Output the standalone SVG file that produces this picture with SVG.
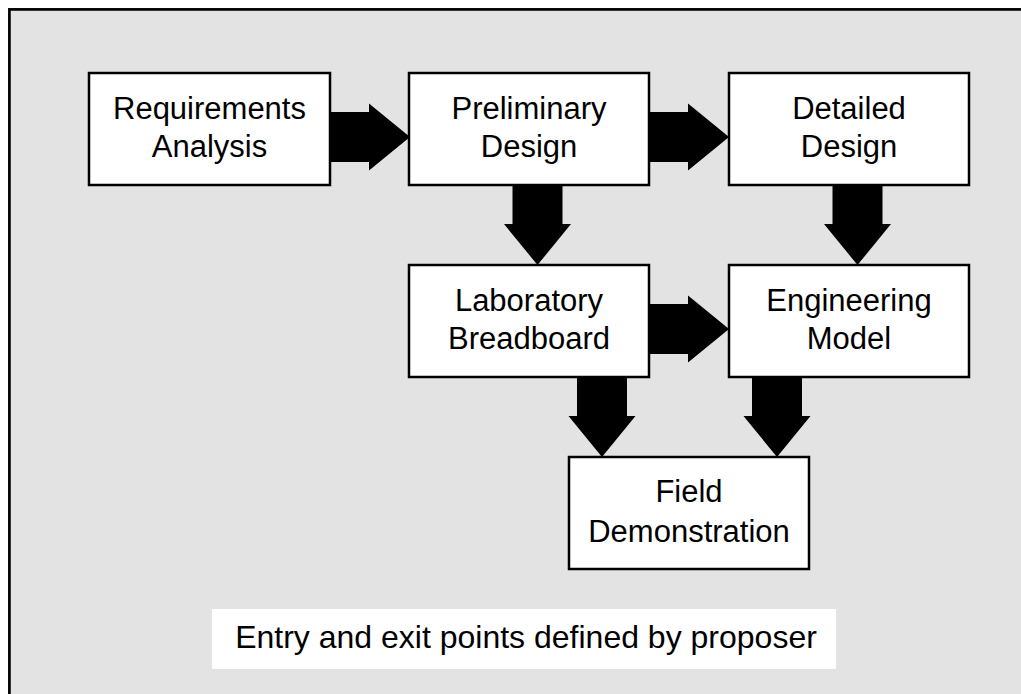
<svg xmlns="http://www.w3.org/2000/svg" width="1021" height="694" viewBox="0 0 1021 694">
<style>
.node rect{fill:#fff;stroke:#000;stroke-width:2.5}
.node text,.note text{font-family:"Liberation Sans",Arial,Helvetica,sans-serif;font-size:31px;fill:#000;text-anchor:middle}
.arrow{fill:#000}
</style>
<defs>
<path id="blk" d="M0,-25 H39 V-33.5 L80,0 L39,33.5 V25 H0 Z"/>
</defs>
<rect x="0" y="0" width="1021" height="694" fill="#fff"/>
<rect x="9.4" y="9.4" width="1040" height="720" fill="#e3e3e3" stroke="#000" stroke-width="2.7"/>
<g id="n-req" class="node"><rect x="89" y="73" width="241" height="112"/><text x="209.5" y="118.5">Requirements</text><text x="209.5" y="157">Analysis</text></g>
<g id="n-pre" class="node"><rect x="409" y="73" width="240" height="112"/><text x="529" y="118.5">Preliminary</text><text x="529" y="157">Design</text></g>
<g id="n-det" class="node"><rect x="729" y="73" width="240" height="112"/><text x="849" y="118.5">Detailed</text><text x="849" y="157">Design</text></g>
<g id="n-lab" class="node"><rect x="409" y="265" width="240" height="112"/><text x="529" y="310.5">Laboratory</text><text x="529" y="349">Breadboard</text></g>
<g id="n-eng" class="node"><rect x="729" y="265" width="240" height="112"/><text x="849" y="310.5">Engineering</text><text x="849" y="349">Model</text></g>
<g id="n-field" class="node"><rect x="569" y="457" width="240" height="112"/><text x="689" y="502">Field</text><text x="689" y="541.5">Demonstration</text></g>
<g id="connectors" class="arrow">
<use href="#blk" transform="translate(330,137)"/>
<use href="#blk" transform="translate(649,137)"/>
<use href="#blk" transform="translate(649,329)"/>
<use href="#blk" transform="translate(537.5,185) rotate(90)"/>
<use href="#blk" transform="translate(857.5,185) rotate(90)"/>
<use href="#blk" transform="translate(602,377) rotate(90)"/>
<use href="#blk" transform="translate(777,377) rotate(90)"/>
</g>
<g id="note" class="note"><rect x="212" y="609" width="624" height="60" fill="#fff"/><text x="526" y="647.5" style="font-size:32px">Entry and exit points defined by proposer</text></g>
</svg>
